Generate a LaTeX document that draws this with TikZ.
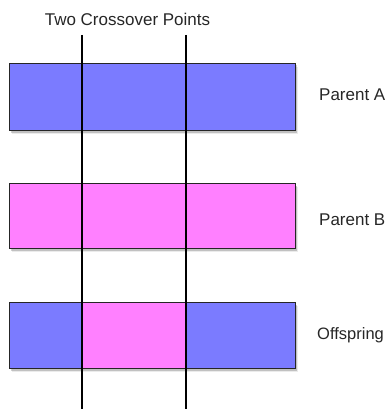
\documentclass[tikz,border=0pt]{standalone}
\usepackage{fontspec}
\setmainfont{Liberation Sans}
\usetikzlibrary{shadows}
\definecolor{genblue}{HTML}{7B7BFF}
\definecolor{genpink}{HTML}{FF80FF}
\begin{document}
\begin{tikzpicture}[x=1pt,y=-1pt,
  bar/.style={draw=black!85,line width=0.9pt,
    drop shadow={shadow xshift=3pt,shadow yshift=-4pt,opacity=0.08,fill=black},
    drop shadow={shadow xshift=1.5pt,shadow yshift=-2.5pt,opacity=0.18,fill=black}},
  seg/.style={draw=black!85,line width=0.9pt},
  cut/.style={line width=2.2pt,black},
  lbl/.style={font=\fontsize{17}{20}\selectfont,inner sep=0pt,text=black!85}]
\useasboundingbox (0,0) rectangle (387,409);
% Parent A
\path[bar,fill=genblue] (9,63) rectangle (295,130);
% Parent B
\path[bar,fill=genpink] (9,183) rectangle (295,248);
% Offspring
\path[bar,fill=genblue] (9,302) rectangle (295,368);
\path[seg,fill=genpink] (82,302) rectangle (186,368);
% crossover lines
\coordinate (c1t) at (82.3,35);
\coordinate (c1b) at (82.3,409);
\coordinate (c2t) at (186,35);
\coordinate (c2b) at (186,409);
\draw[cut] (c1t) -- (c1b);
\draw[cut] (c2t) -- (c2b);
% labels
\node[lbl,anchor=base] (title) at (127.5,26) {Two Crossover Points};
\node[lbl,anchor=base west] (la) at (319,101) {Parent A};
\node[lbl,anchor=base west] (lb) at (319,225) {Parent B};
\node[lbl,anchor=base west,font=\fontsize{16.5}{20}\selectfont] (lo) at (317,339) {Offspring};
\end{tikzpicture}
\end{document}
